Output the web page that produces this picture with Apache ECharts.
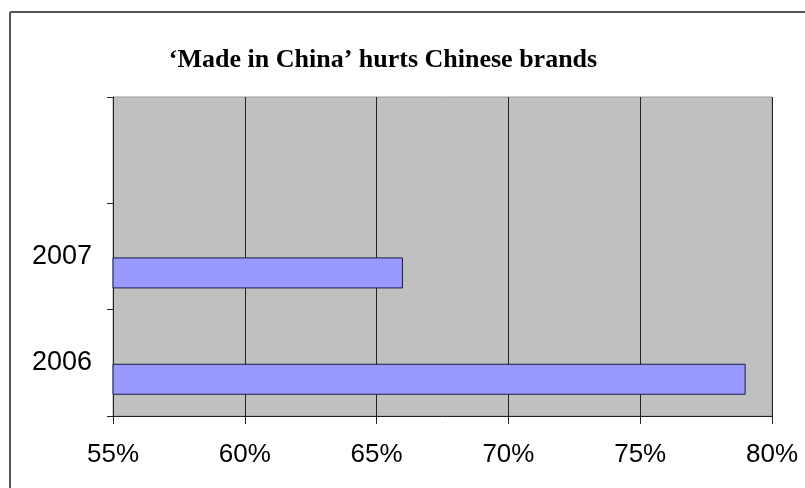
<!DOCTYPE html>
<html><head><meta charset="utf-8">
<script src="https://cdn.jsdelivr.net/npm/echarts@6/dist/echarts.min.js"></script>
<style>html,body{margin:0;padding:0;background:#fff}#c{width:805px;height:488px}</style>
</head><body><div id="c"></div>
<script>
var titleText = "\u2018Made in China\u2019 hurts Chinese brands";
var categories = ['2006', '2007', ''];
var values = [79, 66, null];
var emptySeries = [null, null, null];
var xTicks = [55, 60, 65, 70, 75, 80];

var chart = echarts.init(document.getElementById('c'), null, {renderer: 'canvas'});
chart.setOption({
  animation: false,
  backgroundColor: '#ffffff',
  title: {
    text: titleText, left: 378, top: 42, textAlign: 'center',
    textStyle: {fontFamily: 'Liberation Serif', fontWeight: 'bold', fontSize: 26, color: '#000'}
  },
  graphic: [
    {type: 'line', shape: {x1: 10, y1: 12, x2: 10, y2: 488}, style: {stroke: '#555', lineWidth: 2}},
    {type: 'line', shape: {x1: 10, y1: 12, x2: 805, y2: 12}, style: {stroke: '#555', lineWidth: 2}}
  ],
  grid: {left: 113, right: 33, top: 97, bottom: 72, show: true, backgroundColor: '#c0c0c0', borderColor: '#9a9a9a', borderWidth: 1},
  xAxis: {
    type: 'value', min: xTicks[0], max: xTicks[xTicks.length - 1], interval: 5,
    axisLine: {show: true, lineStyle: {color: '#222', width: 1}},
    axisTick: {show: true, length: 8, lineStyle: {color: '#222'}},
    axisLabel: {formatter: '{value}%', fontFamily: 'Liberation Sans', fontSize: 26, color: '#000', margin: 26},
    splitLine: {show: true, lineStyle: {color: '#222', width: 1}}
  },
  yAxis: {
    type: 'category', data: categories,
    axisLine: {show: true, lineStyle: {color: '#222', width: 1}},
    axisTick: {show: true, length: 6, lineStyle: {color: '#222'}},
    axisLabel: {fontFamily: 'Liberation Sans', fontSize: 27, color: '#000', margin: 21},
    splitLine: {show: false}
  },
  series: [
    {type: 'bar', data: emptySeries, barWidth: 31, barGap: '6%',
     itemStyle: {color: '#9999ff'}},
    {type: 'bar', data: values, barWidth: 31, barGap: '6%',
     itemStyle: {color: '#9999ff', borderColor: '#1a1a40', borderWidth: 1}}
  ]
});
</script></body></html>
